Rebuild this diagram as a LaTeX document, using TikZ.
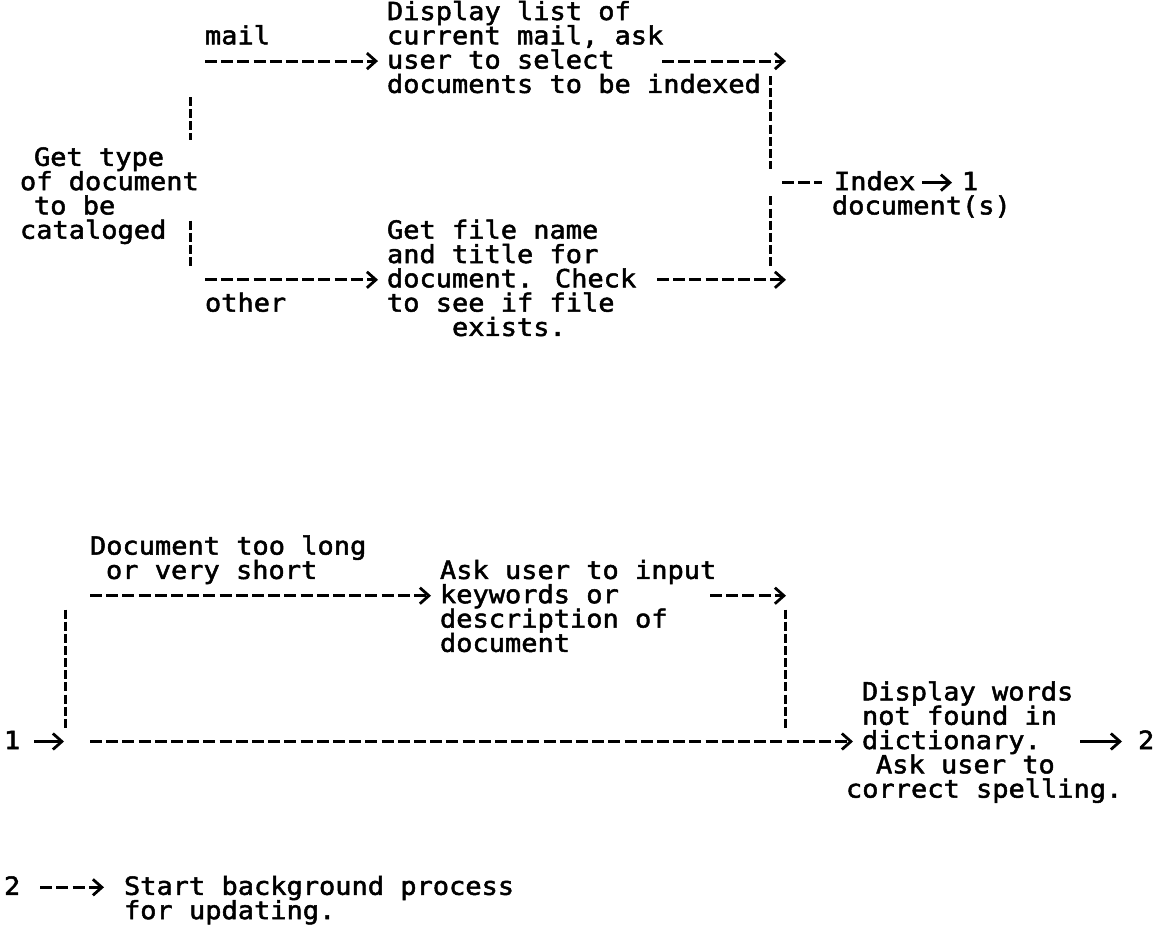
\documentclass[tikz,border=0pt]{standalone}
\usepackage{fontspec}
\newfontfamily\tw[FakeStretch=1.08,FakeBold=2]{DejaVu Sans Mono}
\usetikzlibrary{arrows.meta}
\tikzset{
  txt/.style={anchor=base west, inner sep=0pt, outer sep=0pt, font=\tw\fontsize{25}{25}\selectfont},
  tipend/.style={-{Straight Barb[length=9pt,width=16pt,line width=2.8pt]}},
  harrow/.style={line width=3pt, dash pattern=on 12pt off 4.2pt, tipend},
  hplain/.style={line width=3pt, dash pattern=on 12pt off 4.2pt},
  sarrow/.style={line width=3pt, tipend},
  vbar/.style={line width=3pt, dash pattern=on 9pt off 3.15pt},
}
\begin{document}
\begin{tikzpicture}[x=1pt,y=-1pt]
\useasboundingbox[fill=white] (0,0) rectangle (1165,945);

% ---------- top section ----------
\node[txt] (disp1) at (387,20.0) {Display list of};
\node[txt] (disp2) at (387,44.3) {current mail, ask};
\node[txt] (disp3) at (387,68.6) {user to select};
\node[txt] (disp4) at (387,92.9) {documents to be indexed};
\node[txt] (mail) at (205,44.3) {mail};

\node[txt] (type1) at (34,165.8) {Get type};
\node[txt] (type2) at (20,190.1) {of document};
\node[txt] (type3) at (34,214.4) {to be};
\node[txt] (type4) at (20,238.7) {cataloged};

\node[txt] (file1) at (387,238.7) {Get file name};
\node[txt] (file2) at (387,263.0) {and title for};
\node[txt] (file3) at (387,287.3) {document. Check};
\node[txt] (file4) at (387,311.6) {to see if file};
\node[txt] (file5) at (452,335.9) {exists.};
\node[txt] (other) at (205,311.6) {other};

\node[txt] (index) at (834,190.1) {Index};
\node[txt] (one) at (962,190.1) {1};
\node[txt] (docs) at (832,214.4) {document(s)};

% left bars
\coordinate (lbA1) at (190,97);  \coordinate (lbA2) at (190,140);
\coordinate (lbB1) at (190,220.7); \coordinate (lbB2) at (190,266.15);
\draw[vbar] (lbA1) -- (lbA2);
\draw[vbar] (lbB1) -- (lbB2);

% mail arrow and other arrow
\coordinate (a1s) at (205,61.1);
\draw[harrow, shorten >=9pt] (a1s) -- (disp3.west |- a1s);
\coordinate (a3s) at (205,279.8);
\draw[harrow, shorten >=9pt] (a3s) -- (file3.west |- a3s);

% right arrows
\coordinate (a2s) at (662,61.1); \coordinate (a2e) at (786,61.1);
\draw[harrow] (a2s) -- (a2e);
\coordinate (a4s) at (657,279.8); \coordinate (a4e) at (786,279.8);
\draw[harrow] (a4s) -- (a4e);

% right bar
\coordinate (rbA1) at (770,76);  \coordinate (rbA2) at (770,168.95);
\coordinate (rbB1) at (770,196.4); \coordinate (rbB2) at (770,266.15);
\draw[vbar] (rbA1) -- (rbA2);
\draw[vbar] (rbB1) -- (rbB2);
\coordinate (junc) at (782,182.6);
\draw[hplain, shorten >=12pt] (junc) -- (index.west |- junc);
\draw[sarrow, shorten <=7pt, shorten >=10pt] (index.east |- junc) -- (one.west |- junc);

% ---------- middle section ----------
\node[txt] (long1) at (90,554.6) {Document too long};
\node[txt] (long2) at (106,578.9) {or very short};
\node[txt] (ask1) at (440,578.9) {Ask user to input};
\node[txt] (ask2) at (440,603.2) {keywords or};
\node[txt] (ask3) at (440,627.5) {description of};
\node[txt] (ask4) at (440,651.8) {document};

\coordinate (a5s) at (90,595.7);
\draw[harrow, shorten >=9pt] (a5s) -- (ask2.west |- a5s);
\coordinate (a6s) at (710,595.7); \coordinate (a6e) at (786,595.7);
\draw[harrow] (a6s) -- (a6e);

\coordinate (mlb1) at (65,609.5);  \coordinate (mlb2) at (65,727.85);
\draw[vbar] (mlb1) -- (mlb2);
\coordinate (mrb1) at (785,609.5); \coordinate (mrb2) at (785,727.85);
\draw[vbar] (mrb1) -- (mrb2);

\node[txt] (in1) at (4,749.0) {1};
\node[txt] (dw1) at (862,700.4) {Display words};
\node[txt] (dw2) at (862,724.7) {not found in};
\node[txt] (dw3) at (862,749.0) {dictionary.};
\node[txt] (dw4) at (876,773.3) {Ask user to};
\node[txt] (dw5) at (846,797.6) {correct spelling.};
\node[txt] (two) at (1138,749.0) {2};

\coordinate (i1e) at (64,741.5);
\draw[sarrow, shorten <=14pt] (in1.east |- i1e) -- (i1e);
\coordinate (a7s) at (90,741.5);
\draw[harrow, shorten >=9pt] (a7s) -- (dw3.west |- a7s);
\coordinate (a9s) at (1080,741.5);
\draw[sarrow, shorten >=16pt] (a9s) -- (two.west |- a9s);

% ---------- bottom section ----------
\node[txt] (two2) at (4,894.8) {2};
\node[txt] (start1) at (124,894.8) {Start background process};
\node[txt] (start2) at (124,919.1) {for updating.};
\coordinate (a8y) at (0,887.3);
\draw[harrow, shorten <=20pt, shorten >=20pt] (two2.east |- a8y) -- (start1.west |- a8y);
\end{tikzpicture}
\end{document}
